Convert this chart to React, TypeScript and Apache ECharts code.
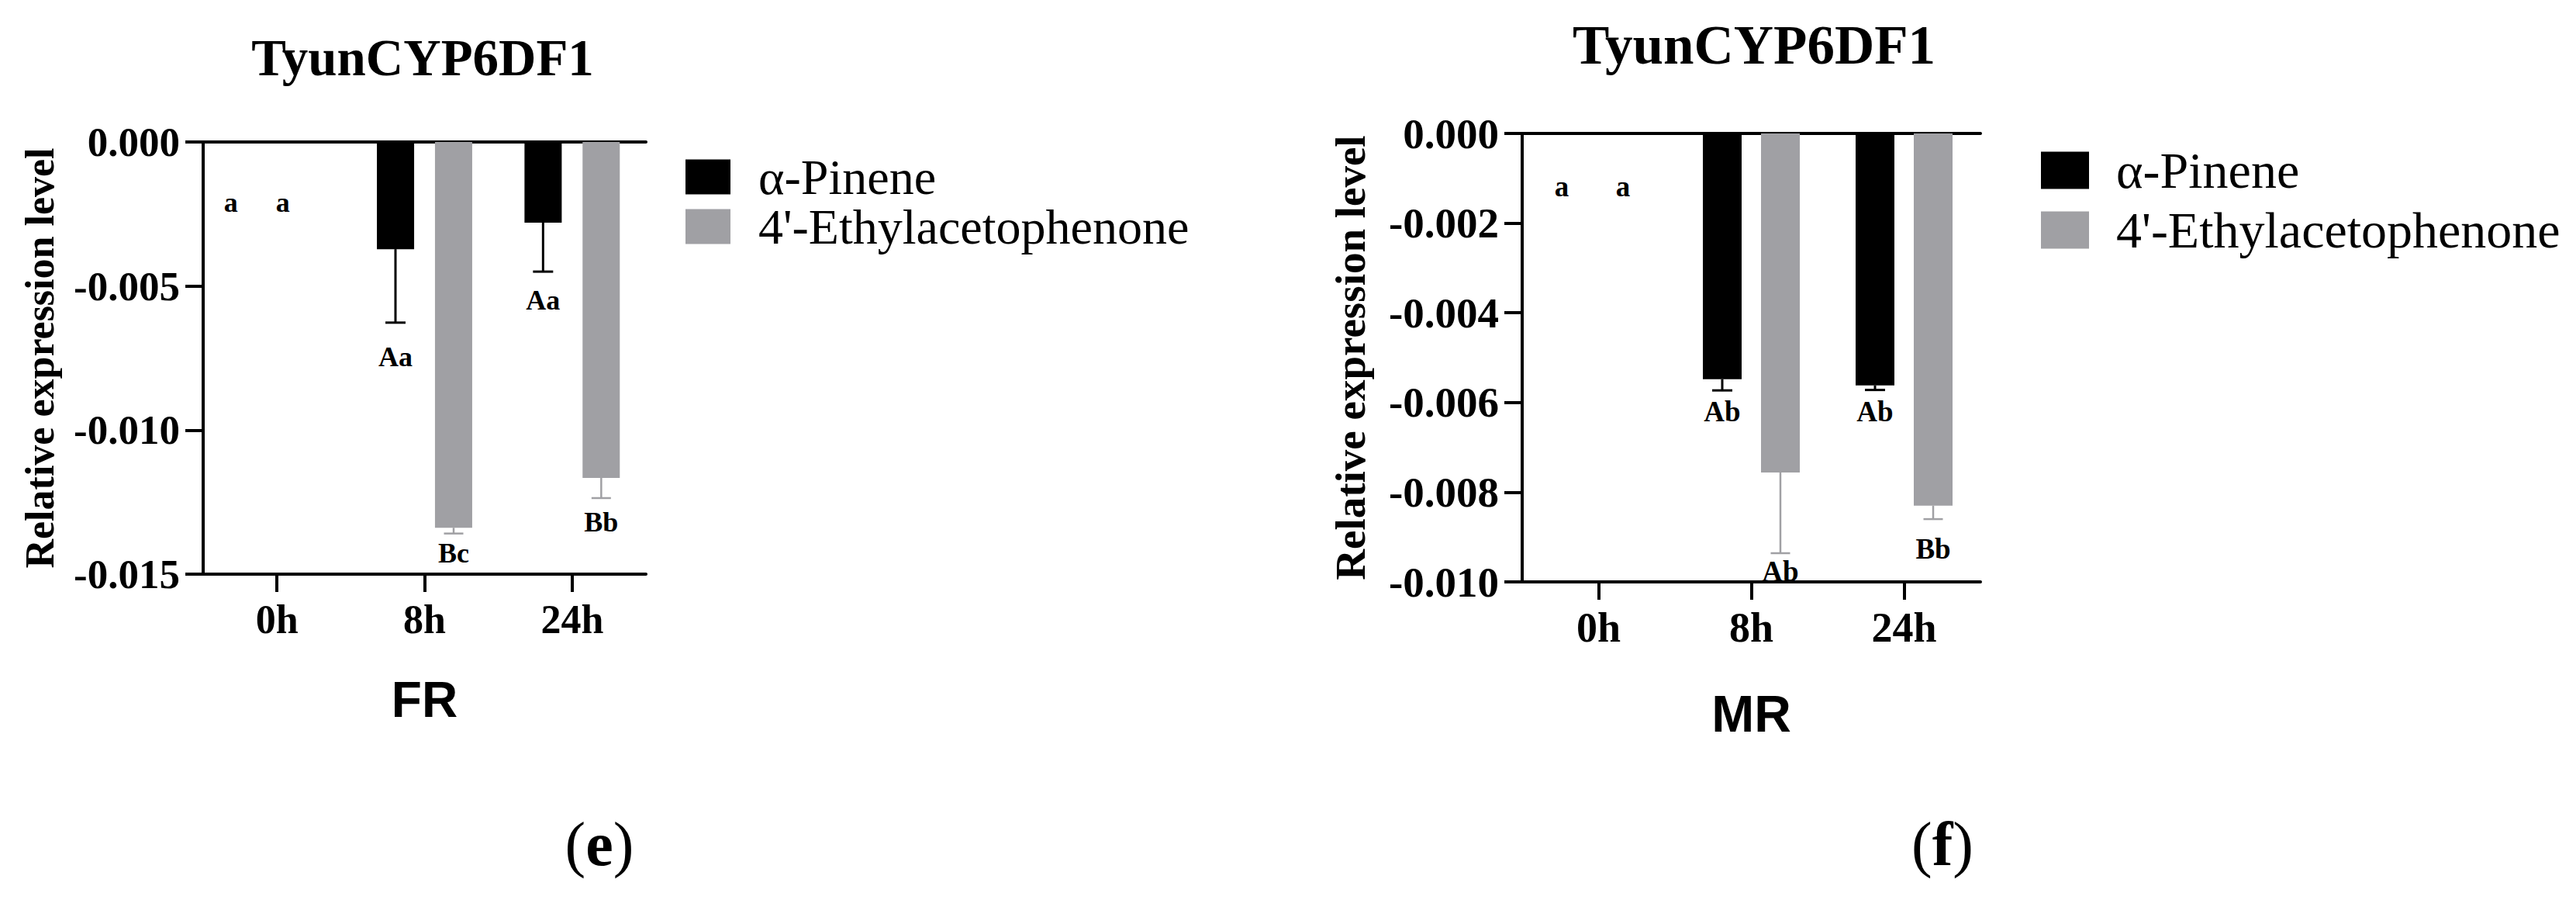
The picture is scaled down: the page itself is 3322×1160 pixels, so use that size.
import React, { useEffect, useRef } from "react";
import * as echarts from "echarts";

// ---------- data ----------
const categories = ["0h", "8h", "24h"];
const seriesNames = ["α-Pinene", "4'-Ethylacetophenone"];
const chartTitle = "TyunCYP6DF1";
const yAxisTitle = "Relative expression level";

// FR panel (e)
const frPinene = [0, -0.00372, -0.0028];
const frPineneErr = [0, 0.00255, 0.0017];
const frEthyl = [0, -0.01339, -0.01166];
const frEthylErr = [0, 0.0002, 0.0007];
const frPineneLetters = ["a", "Aa", "Aa"];
const frEthylLetters = ["a", "Bc", "Bb"];
const frPineneLetterY = [-0.0021, -0.00746, -0.0055];
const frEthylLetterY = [-0.0021, -0.01427, -0.0132];
const frYMin = -0.015;
const frYInterval = 0.005;

// MR panel (f)
const mrPinene = [0, -0.00548, -0.00562];
const mrPineneErr = [0, 0.00025, 0.0001];
const mrEthyl = [0, -0.00756, -0.0083];
const mrEthylErr = [0, 0.0018, 0.0003];
const mrPineneLetters = ["a", "Ab", "Ab"];
const mrEthylLetters = ["a", "Ab", "Bb"];
const mrPineneLetterY = [-0.00118, -0.0062, -0.0062];
const mrEthylLetterY = [-0.00118, -0.00977, -0.00927];
const mrYMin = -0.01;
const mrYInterval = 0.002;

// ---------- styles ----------
const SERIF = '"Liberation Serif", "Times New Roman", serif';
const SANS = '"Liberation Sans", Arial, sans-serif';
const BLACK = "#000000";
const GRAY = "#a0a0a4";

function errorSeries(
  name: string,
  xAxisIndex: number,
  yAxisIndex: number,
  values: number[],
  errs: number[],
  letters: string[],
  letterY: number[],
  dx: number,
  zeroDx: number,
  color: string,
  lw: number,
  capW: number,
  fontSize: number
) {
  return {
    type: "custom",
    name,
    xAxisIndex,
    yAxisIndex,
    z: 5,
    clip: false,
    silent: true,
    data: values.map((v, i) => [i, v, errs[i], letterY[i]]),
    encode: { x: 0, y: 1 },
    renderItem: (params: any, api: any) => {
      const i = params.dataIndex;
      const cat = api.value(0);
      const v = api.value(1);
      const e = api.value(2);
      const ly = api.value(3);
      const base = api.coord([cat, v]);
      const end = api.coord([cat, v - e]);
      const x = base[0] + dx;
      const children: any[] = [];
      if (e > 0) {
        children.push({
          type: "line",
          shape: { x1: x, y1: base[1], x2: x, y2: end[1] },
          style: { stroke: color, lineWidth: lw },
        });
        children.push({
          type: "line",
          shape: { x1: x - capW / 2, y1: end[1], x2: x + capW / 2, y2: end[1] },
          style: { stroke: color, lineWidth: lw },
        });
      }
      const lp = api.coord([cat, ly]);
      children.push({
        type: "text",
        x: x + (v === 0 ? zeroDx : 0),
        y: lp[1],
        style: {
          text: letters[i],
          fill: "#000",
          fontFamily: SERIF,
          fontWeight: "bold",
          fontSize,
          align: "center",
          verticalAlign: "middle",
        },
      });
      return { type: "group", children };
    },
  };
}

function bottomX(gridIndex: number, name: string, nameGap: number, fontSize: number, nameSize: number) {
  return {
    type: "category",
    gridIndex,
    data: categories,
    position: "bottom",
    boundaryGap: true,
    axisLine: { show: true, onZero: false, lineStyle: { color: BLACK, width: 4 } },
    axisTick: { show: true, alignWithLabel: true, length: 23, lineStyle: { color: BLACK, width: 4 } },
    axisLabel: {
      color: BLACK,
      fontFamily: SERIF,
      fontWeight: "bold",
      fontSize,
      margin: 32,
    },
    splitLine: { show: false },
    name,
    nameLocation: "middle",
    nameGap,
    nameTextStyle: { color: BLACK, fontFamily: SANS, fontWeight: "bold", fontSize: nameSize },
  };
}

function topX(gridIndex: number) {
  return {
    type: "category",
    gridIndex,
    data: categories,
    position: "top",
    axisLine: { show: true, onZero: false, lineStyle: { color: BLACK, width: 4 } },
    axisTick: { show: false },
    axisLabel: { show: false },
    splitLine: { show: false },
  };
}

function yAx(gridIndex: number, min: number, interval: number, fontSize: number, nameGap: number, nameSize: number) {
  return {
    type: "value",
    gridIndex,
    min,
    max: 0,
    interval,
    axisLine: { show: true, onZero: false, lineStyle: { color: BLACK, width: 4 } },
    axisTick: { show: true, length: 23, lineStyle: { color: BLACK, width: 4 } },
    splitLine: { show: false },
    axisLabel: {
      color: BLACK,
      fontFamily: SERIF,
      fontWeight: "bold",
      fontSize,
      margin: 30,
      formatter: (v: number) => v.toFixed(3),
    },
    name: yAxisTitle,
    nameLocation: "middle",
    nameGap,
    nameTextStyle: { color: BLACK, fontFamily: SERIF, fontWeight: "bold", fontSize: nameSize },
  };
}

function legend(left: number, top: number, w: number, h: number, fontSize: number, lineHeight: number, pad: number) {
  return {
    data: seriesNames,
    orient: "vertical",
    left,
    top,
    padding: 0,
    itemGap: 0,
    itemWidth: w,
    itemHeight: h,
    icon: "rect",
    selectedMode: false,
    textStyle: {
      color: BLACK,
      fontFamily: SERIF,
      fontSize,
      lineHeight,
      padding: [0, 0, 0, pad],
    },
  };
}

function buildOption() {
  return {
    animation: false,
    backgroundColor: "#ffffff",
    grid: [
      { left: 262, top: 183, width: 571, height: 557 },
      { left: 1963, top: 172, width: 591, height: 578 },
    ],
    xAxis: [
      bottomX(0, "FR", 130, 52, 64),
      topX(0),
      bottomX(1, "MR", 137, 54, 66),
      topX(1),
    ],
    yAxis: [
      yAx(0, frYMin, frYInterval, 53, 185, 52),
      yAx(1, mrYMin, mrYInterval, 55, 194, 55),
    ],
    legend: [
      legend(884, 196, 58, 45, 64, 62, 31),
      legend(2632, 181, 62, 48, 66, 77, 30),
    ],
    series: [
      {
        type: "bar",
        name: seriesNames[0],
        xAxisIndex: 0,
        yAxisIndex: 0,
        data: frPinene,
        barWidth: 48,
        barGap: "56%",
        itemStyle: { color: BLACK },
      },
      {
        type: "bar",
        name: seriesNames[1],
        xAxisIndex: 0,
        yAxisIndex: 0,
        data: frEthyl,
        barWidth: 48,
        barGap: "56%",
        itemStyle: { color: GRAY },
      },
      errorSeries("frPineneErr", 0, 0, frPinene, frPineneErr, frPineneLetters, frPineneLetterY, -37.5, -22, BLACK, 3, 26, 36),
      errorSeries("frEthylErr", 0, 0, frEthyl, frEthylErr, frEthylLetters, frEthylLetterY, 37.5, -30, GRAY, 2.5, 25, 36),
      {
        type: "bar",
        name: seriesNames[0],
        xAxisIndex: 2,
        yAxisIndex: 1,
        data: mrPinene,
        barWidth: 50,
        barGap: "50%",
        itemStyle: { color: BLACK },
      },
      {
        type: "bar",
        name: seriesNames[1],
        xAxisIndex: 2,
        yAxisIndex: 1,
        data: mrEthyl,
        barWidth: 50,
        barGap: "50%",
        itemStyle: { color: GRAY },
      },
      errorSeries("mrPineneErr", 2, 1, mrPinene, mrPineneErr, mrPineneLetters, mrPineneLetterY, -37.5, -10, BLACK, 3, 26, 37),
      errorSeries("mrEthylErr", 2, 1, mrEthyl, mrEthylErr, mrEthylLetters, mrEthylLetterY, 37.5, -6, GRAY, 2.5, 25, 37),
    ],
    graphic: [
      {
        type: "text",
        x: 545,
        y: 74,
        style: {
          text: chartTitle,
          fill: BLACK,
          fontFamily: SERIF,
          fontWeight: "bold",
          fontSize: 67,
          align: "center",
          verticalAlign: "middle",
        },
      },
      {
        type: "text",
        x: 2262,
        y: 58,
        style: {
          text: chartTitle,
          fill: BLACK,
          fontFamily: SERIF,
          fontWeight: "bold",
          fontSize: 71,
          align: "center",
          verticalAlign: "middle",
        },
      },
      {
        type: "text",
        x: 773,
        y: 1088,
        style: {
          text: "{p|(}{b|e}{p|)}",
          fill: BLACK,
          align: "center",
          verticalAlign: "middle",
          rich: {
            p: { fontFamily: SERIF, fontSize: 80, fill: BLACK },
            b: { fontFamily: SERIF, fontSize: 80, fontWeight: "bold", fill: BLACK },
          },
        },
      },
      {
        type: "text",
        x: 2505,
        y: 1088,
        style: {
          text: "{p|(}{b|f}{p|)}",
          fill: BLACK,
          align: "center",
          verticalAlign: "middle",
          rich: {
            p: { fontFamily: SERIF, fontSize: 80, fill: BLACK },
            b: { fontFamily: SERIF, fontSize: 80, fontWeight: "bold", fill: BLACK },
          },
        },
      },
    ],
  };
}

export default function App() {
  const ref = useRef<HTMLDivElement>(null);
  useEffect(() => {
    if (!ref.current) return;
    const chart = echarts.init(ref.current, null, { renderer: "svg" });
    chart.setOption(buildOption() as any);
    return () => {
      chart.dispose();
    };
  }, []);
  return (
    <div
      ref={ref}
      style={{ position: "absolute", left: 0, top: 0, width: 3322, height: 1160, background: "#ffffff" }}
    />
  );
}
